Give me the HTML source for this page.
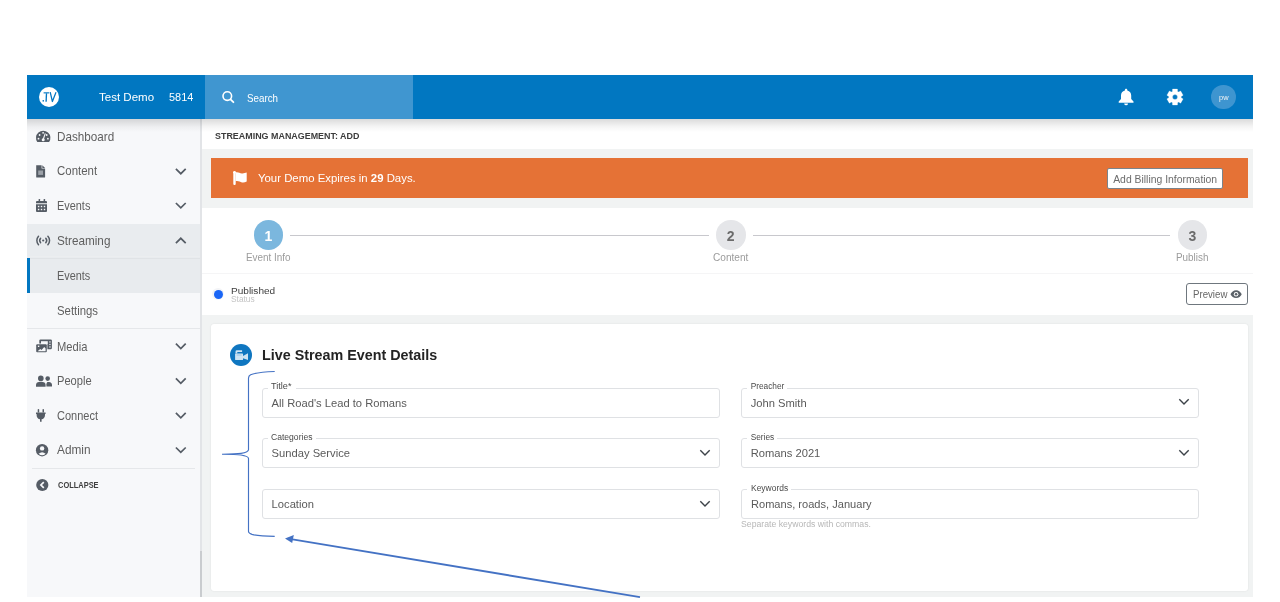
<!DOCTYPE html>
<html><head><meta charset="utf-8">
<style>
*{box-sizing:border-box;margin:0;padding:0}
html,body{width:1280px;height:602px;overflow:hidden;background:#fff;font-family:"Liberation Sans",sans-serif}
.a{position:absolute}
.t{position:absolute;white-space:nowrap;font-family:"Liberation Sans",sans-serif;filter:grayscale(1)}
.fld{position:absolute;border:1px solid #dfe1e4;border-radius:3px;background:#fff;width:457.5px;height:30px}
.gap{position:absolute;background:#fff;height:3px}
</style></head><body>

<!-- header -->
<div class="a" style="left:27px;top:75px;width:1226px;height:44px;background:#0177c1"></div>
<div class="a" style="left:205px;top:75px;width:208px;height:44px;background:#4096d0"></div>
<div class="a" style="left:38.7px;top:86.6px;width:20.8px;height:20.8px;border-radius:50%;background:#fff"></div>
<div class="a" style="left:1211.3px;top:84.8px;width:24.5px;height:24.5px;border-radius:50%;background:#3e95d0"></div>

<!-- sidebar -->
<div class="a" style="left:27px;top:119px;width:175px;height:478px;background:#f7f8fa;border-right:2px solid #e2e4e7"></div>
<div class="a" style="left:200px;top:551px;width:1.5px;height:46px;background:#c9cccf"></div>
<div class="a" style="left:27px;top:224px;width:173px;height:34px;background:#e9ecef"></div>
<div class="a" style="left:27px;top:256px;width:173px;height:1px;background:#eceef0"></div>
<div class="a" style="left:27px;top:257.5px;width:173px;height:1.3px;background:#e0e3e6"></div>
<div class="a" style="left:27px;top:258.8px;width:173px;height:34.7px;background:#e8ebee"></div>
<div class="a" style="left:27px;top:258.3px;width:3px;height:35.2px;background:#0277c1"></div>
<div class="a" style="left:27px;top:328px;width:173px;height:1px;background:#e5e7ea"></div>
<div class="a" style="left:32px;top:468px;width:163px;height:1px;background:#e5e7ea"></div>

<!-- main bg -->
<div class="a" style="left:202px;top:119px;width:1051px;height:478px;background:#f1f3f3"></div>
<div class="a" style="left:202px;top:119px;width:1051px;height:30px;background:#fff"></div>
<div class="a" style="left:210.7px;top:158px;width:1037.6px;height:39.5px;background:#e57236"></div>
<div class="a" style="left:1107.3px;top:168.3px;width:116.2px;height:20.6px;background:#fff;border:1px solid #7b848b;border-radius:2px"></div>

<!-- steps + status -->
<div class="a" style="left:202px;top:208px;width:1051px;height:107px;background:#fff"></div>
<div class="a" style="left:202px;top:273px;width:1051px;height:1px;background:#f5f5f6"></div>
<div class="a" style="left:290.3px;top:234.8px;width:418.6px;height:1px;background:#c8c8cd"></div>
<div class="a" style="left:752.5px;top:234.8px;width:417.5px;height:1px;background:#c8c8cd"></div>
<div class="a" style="left:253.8px;top:220px;width:29.5px;height:29.5px;border-radius:50%;background:#7bb7de"></div>
<div class="a" style="left:716px;top:220px;width:29.5px;height:29.5px;border-radius:50%;background:#e5e6e9"></div>
<div class="a" style="left:1177.9px;top:220px;width:29.5px;height:29.5px;border-radius:50%;background:#e5e6e9"></div>
<div class="a" style="left:212.3px;top:288.4px;width:12px;height:12px;border-radius:50%;background:#f3f4f7"></div>
<div class="a" style="left:213.7px;top:289.8px;width:9.2px;height:9.2px;border-radius:50%;background:#1a66f6"></div>
<div class="a" style="left:1186.3px;top:283.3px;width:61.5px;height:21.4px;border:1px solid #6f777e;border-radius:3px"></div>

<!-- card -->
<div class="a" style="left:211px;top:324.3px;width:1037.2px;height:266.5px;background:#fff;border-radius:3px;box-shadow:0 0 2px rgba(0,0,0,0.09)"></div>
<div class="a" style="left:230.2px;top:344px;width:22px;height:22px;border-radius:50%;background:#0f76c0"></div>

<div class="fld" style="left:262px;top:387.5px"></div>
<div class="fld" style="left:262px;top:437.7px"></div>
<div class="fld" style="left:262px;top:488.6px"></div>
<div class="fld" style="left:741px;top:387.5px"></div>
<div class="fld" style="left:741px;top:437.7px"></div>
<div class="fld" style="left:741px;top:488.6px"></div>
<div class="gap" style="left:268px;top:386px;width:28px"></div>
<div class="gap" style="left:268px;top:436px;width:48px"></div>
<div class="gap" style="left:747px;top:386px;width:40px"></div>
<div class="gap" style="left:747px;top:436px;width:30px"></div>
<div class="gap" style="left:747px;top:487px;width:44px"></div>

<!-- header shadow -->
<div class="a" style="left:27px;top:119px;width:1226px;height:13px;background:linear-gradient(rgba(0,0,0,0.14),rgba(0,0,0,0.04) 60%,rgba(0,0,0,0))"></div>

<!-- icons overlay -->
<svg class="a" style="left:0;top:0" width="1280" height="602" viewBox="0 0 1280 602">
<!-- logo .TV -->
<g fill="none" stroke="#0276c2">
 <path d="M43.6 92.85H49.1" stroke-width="1.15"/>
 <path d="M46.5 93.2L46.1 101.7" stroke-width="1.35"/>
 <path d="M50.2 92.2L52.4 101.5L56 92.2" stroke-width="1.25" stroke-linejoin="round"/>
</g>
<rect x="42.6" y="100" width="1.3" height="1.6" fill="#0276c2"/>
<!-- search icon -->
<circle cx="227.3" cy="96.1" r="4.3" fill="none" stroke="#fff" stroke-width="1.6"/>
<line x1="230.5" y1="99.3" x2="233.4" y2="102.2" stroke="#fff" stroke-width="1.8" stroke-linecap="round"/>
<!-- bell -->
<g fill="#fff">
 <path d="M1126.1 88.8c.8 0 1.2.6 1.2 1.2v.5c2.5.6 3.9 2.6 3.9 5.1v3.5l2.3 2.5v1.2h-14.8v-1.2l2.3-2.5v-3.5c0-2.5 1.4-4.5 3.9-5.1v-.5c0-.6.4-1.2 1.2-1.2z"/>
 <path d="M1124.2 103.4h3.8a1.9 1.9 0 0 1-3.8 0z"/>
</g>
<!-- gear -->
<path fill="#fff" fill-rule="evenodd" stroke="#fff" stroke-width="0.3" stroke-linejoin="round" d="M1172.47 91.39 L1172.55 89.12 L1177.45 89.12 L1177.53 91.39 L1178.64 92.03 L1180.64 90.96 L1183.09 95.21 L1181.17 96.41 L1181.17 97.69 L1183.09 98.89 L1180.64 103.14 L1178.64 102.07 L1177.53 102.71 L1177.45 104.98 L1172.55 104.98 L1172.47 102.71 L1171.36 102.07 L1169.36 103.14 L1166.91 98.89 L1168.83 97.69 L1168.83 96.41 L1166.91 95.21 L1169.36 90.96 L1171.36 92.03ZM1177.50 97.05A2.5 2.5 0 1 0 1172.50 97.05A2.5 2.5 0 1 0 1177.50 97.05Z"/>
<!-- flag -->
<g fill="#fff">
 <rect x="233.3" y="171.8" width="2.4" height="13.1" rx="1"/>
 <circle cx="234.5" cy="172.3" r="1.4"/>
 <path d="M235.6 172.6C238 171.6 240 173.9 242.5 173.5C244 173.3 245.5 172.6 246.7 172.4L246.7 181.6C245 182.4 243.5 182.7 242 182.4C240 181.9 238 180.6 235.6 181.3Z"/>
</g>
<!-- eye icon -->
<path d="M1236.1 290.3c-2.6 0-4.6 1.8-5.6 3.9 1 2.1 3 3.9 5.6 3.9s4.6-1.8 5.6-3.9c-1-2.1-3-3.9-5.6-3.9z" fill="#5a6168"/>
<circle cx="1236.1" cy="294.2" r="2.3" fill="#fff"/>
<circle cx="1236.1" cy="294.2" r="1.3" fill="#5a6168"/>
<!-- camera -->
<g fill="#cfe4f3">
 <path d="M235.5 353.6V351.7a1.4 1.4 0 0 1 1.4-1.4H242.1V351.9H237.3V353.6Z"/>
 <rect x="235.1" y="353.4" width="7.9" height="6.6" rx="0.6"/>
 <path d="M243 356L248 353.3V360L243 358.3Z"/>
</g>
<rect x="236.6" y="354.4" width="5" height="1.3" fill="#a9cce8"/>

<g fill="#555c65">
 <!-- dashboard -->
 <path d="M37.3 142A7.2 7.2 0 1 1 49.1 142Z"/>
 <g fill="#f7f8fa"><circle cx="39.6" cy="135" r="0.9"/><circle cx="38.5" cy="138.7" r="0.9"/><circle cx="47.9" cy="138.7" r="0.9"/><circle cx="46.7" cy="135" r="0.9"/><circle cx="43.1" cy="132.8" r="0.9"/><circle cx="43.2" cy="139.8" r="1.5"/></g>
 <line x1="43.2" y1="139.5" x2="45.3" y2="133.4" stroke="#f7f8fa" stroke-width="1.1"/>
 <!-- content file -->
 <path d="M36.2 165.2h5.4v3.4h3.5v8.3a.6.6 0 0 1-.6.6h-7.7a.6.6 0 0 1-.6-.6z"/>
 <path d="M42.3 165.2l2.8 2.8h-2.8z"/>
 <rect x="38.2" y="170.5" width="4.8" height="4.4" fill="#9ca1a8"/>
 <!-- calendar -->
 <rect x="38.6" y="199" width="1.5" height="3" rx=".5"/><rect x="43.6" y="199" width="1.5" height="3" rx=".5"/>
 <path d="M36 203.2v-1.2a1 1 0 0 1 1-1h9a1 1 0 0 1 1 1v1.2z"/>
 <path d="M36 204.2h11v6.8a1 1 0 0 1-1 1h-9a1 1 0 0 1-1-1z"/>
 <g fill="#f7f8fa"><rect x="37.9" y="205.8" width="1.4" height="1.4"/><rect x="40.8" y="205.8" width="1.4" height="1.4"/><rect x="43.8" y="205.8" width="1.4" height="1.4"/><rect x="37.9" y="208.8" width="1.4" height="1.4"/><rect x="40.8" y="208.8" width="1.4" height="1.4"/><rect x="43.8" y="208.8" width="1.4" height="1.4"/></g>
 <!-- streaming -->
 <g fill="none" stroke="#555c65" stroke-width="1.5" stroke-linecap="round">
  <path d="M38.5 236.3A6.2 6.2 0 0 0 38.5 244.7"/><path d="M47.9 236.3A6.2 6.2 0 0 1 47.9 244.7"/>
  <path d="M40.6 238.3A3.4 3.4 0 0 0 40.6 242.7"/><path d="M45.8 238.3A3.4 3.4 0 0 1 45.8 242.7"/>
 </g>
 <circle cx="43.2" cy="240.5" r="1.1"/>
 <!-- media -->
 <rect x="39.3" y="339.6" width="12.6" height="9.6" rx="1.2"/>
 <rect x="41" y="341.2" width="6.8" height="3" fill="#f7f8fa"/>
 <g fill="#f7f8fa"><rect x="49.3" y="341.3" width="1.3" height="1.3"/><rect x="49.3" y="343.8" width="1.3" height="1.3"/><rect x="49.3" y="346.3" width="1.3" height="1.3"/></g>
 <rect x="35.6" y="343.6" width="11.8" height="9.2" rx="1.2" fill="#f7f8fa"/>
 <rect x="36.2" y="344.2" width="10.6" height="8" rx="1"/>
 <path d="M37.6 351.2l2.6-2.2 1.4 1 2.6-3 1.4 1.4v2.8z" fill="#f7f8fa"/>
 <rect x="37.9" y="345.6" width="1.4" height="1.4" fill="#f7f8fa"/>
 <!-- people -->
 <circle cx="40.8" cy="378.4" r="2.8"/><circle cx="47.7" cy="378.6" r="2.3"/>
 <path d="M36 386.7v-1.8c0-1.7 1.3-3 3-3h3.6c1.7 0 3 1.3 3 3v1.8z"/>
 <path d="M46.4 386.6v-2.3c0-1 .4-1.8 1-2.4h1.6c1.8 0 3 1.4 3 3v1.7z"/>
 <!-- connect plug -->
 <rect x="37.7" y="409" width="1.5" height="3.6" rx=".7"/><rect x="42.5" y="409" width="1.5" height="3.6" rx=".7"/>
 <path d="M36 412.6h9.6v1.3h-.6v1c0 2.4-1.6 4-3.4 4.4v2.4h-1.6v-2.4c-1.8-.4-3.4-2-3.4-4.4v-1h-.6z"/>
 <!-- admin -->
 <circle cx="42.1" cy="450.2" r="6.2"/>
 <circle cx="42.1" cy="448.4" r="2.2" fill="#f7f8fa"/>
 <path d="M38.6 453.8Q42.1 450.8 45.6 453.8Q42.1 456.9 38.6 453.8z" fill="#f7f8fa"/>
 <!-- collapse -->
 <circle cx="42.3" cy="485" r="6.1"/>
 <path d="M43.8 482.1L40.9 485L43.8 487.9" fill="none" stroke="#f7f8fa" stroke-width="1.7"/>
</g>
<!-- sidebar chevrons -->
<g fill="none" stroke="#555c65" stroke-width="1.7">
 <path d="M175.9 168.8L180.8 173.7L185.7 168.8"/>
 <path d="M175.9 203L180.8 207.9L185.7 203"/>
 <path d="M175.9 243.2L180.8 238.3L185.7 243.2"/>
 <path d="M175.9 343.7L180.8 348.6L185.7 343.7"/>
 <path d="M175.9 378.4L180.8 383.3L185.7 378.4"/>
 <path d="M175.9 412.9L180.8 417.8L185.7 412.9"/>
 <path d="M175.9 447.5L180.8 452.4L185.7 447.5"/>
</g>
<!-- field chevrons -->
<g fill="none" stroke="#3d4349" stroke-width="1.4">
 <path d="M700.3 450.3L705 455L709.7 450.3"/>
 <path d="M700.3 501.2L705 505.9L709.7 501.2"/>
 <path d="M1179.3 399.3L1184 404L1188.7 399.3"/>
 <path d="M1179.3 450.3L1184 455L1188.7 450.3"/>
</g>
<!-- annotations -->
<path d="M274.7 371.5C263 371.9 254 373.3 250.6 374.8C248.9 375.6 248.5 376.6 248.5 378.2L248.5 449.8C248.5 451.8 245.6 452.6 241 453.4C238 453.9 234 454.2 222 454.2C234 454.2 238 454.5 241 455C245.6 455.8 248.5 456.6 248.5 458.4L248.5 531.6C248.5 533 249.6 533.6 252 534.4C256 535.6 262 536.3 274.7 536.4" fill="none" stroke="#4472c4" stroke-width="1.15"/>
<line x1="640" y1="597.1" x2="291" y2="539.1" stroke="#4472c4" stroke-width="1.9"/>
<path d="M285 538.4L293.8 535L292.2 543.1z" fill="#4472c4"/>
</svg>

<div class="t" style="left:99.20px;top:92px;font-size:11.8px;line-height:11.8px;font-weight:400;color:#fff;transform:scaleX(0.9768);transform-origin:0 0;">Test Demo</div>
<div class="t" style="left:169.20px;top:92px;font-size:11.8px;line-height:11.8px;font-weight:400;color:#fff;transform:scaleX(0.9257);transform-origin:0 0;">5814</div>
<div class="t" style="left:246.70px;top:93px;font-size:10.8px;line-height:10.8px;font-weight:400;color:#fff;transform:scaleX(0.9063);transform-origin:0 0;">Search</div>
<div class="t" style="left:1218.60px;top:94px;font-size:7.6px;line-height:7.6px;font-weight:400;color:#eef5fb;transform:scaleX(0.9782);transform-origin:0 0;">pw</div>
<div class="t" style="left:57.30px;top:131px;font-size:12.1px;line-height:12.1px;font-weight:400;color:#59606a;transform:scaleX(0.9668);transform-origin:0 0;">Dashboard</div>
<div class="t" style="left:57.30px;top:165px;font-size:12.1px;line-height:12.1px;font-weight:400;color:#59606a;transform:scaleX(0.9466);transform-origin:0 0;">Content</div>
<div class="t" style="left:57.30px;top:200px;font-size:12.1px;line-height:12.1px;font-weight:400;color:#59606a;transform:scaleX(0.9018);transform-origin:0 0;">Events</div>
<div class="t" style="left:57.30px;top:235px;font-size:12.1px;line-height:12.1px;font-weight:400;color:#59606a;transform:scaleX(0.9689);transform-origin:0 0;">Streaming</div>
<div class="t" style="left:57.30px;top:270px;font-size:12.1px;line-height:12.1px;font-weight:400;color:#59606a;transform:scaleX(0.8991);transform-origin:0 0;">Events</div>
<div class="t" style="left:57.30px;top:305px;font-size:12.1px;line-height:12.1px;font-weight:400;color:#59606a;transform:scaleX(0.9393);transform-origin:0 0;">Settings</div>
<div class="t" style="left:57.30px;top:341px;font-size:12.1px;line-height:12.1px;font-weight:400;color:#59606a;transform:scaleX(0.9243);transform-origin:0 0;">Media</div>
<div class="t" style="left:57.30px;top:375px;font-size:12.1px;line-height:12.1px;font-weight:400;color:#59606a;transform:scaleX(0.9201);transform-origin:0 0;">People</div>
<div class="t" style="left:57.30px;top:410px;font-size:12.1px;line-height:12.1px;font-weight:400;color:#59606a;transform:scaleX(0.9106);transform-origin:0 0;">Connect</div>
<div class="t" style="left:57.30px;top:444px;font-size:12.1px;line-height:12.1px;font-weight:400;color:#59606a;transform:scaleX(0.9775);transform-origin:0 0;">Admin</div>
<div class="t" style="left:57.80px;top:481px;font-size:8.3px;line-height:8.3px;font-weight:700;color:#3a4047;transform:scaleX(0.8983);transform-origin:0 0;">COLLAPSE</div>
<div class="t" style="left:214.60px;top:131px;font-size:9.6px;line-height:9.6px;font-weight:700;color:#383d42;transform:scaleX(0.9300);transform-origin:0 0;">STREAMING MANAGEMENT: ADD</div>
<div class="t" style="left:258.10px;top:172px;font-size:11.6px;line-height:11.6px;font-weight:400;color:#fff;transform:scaleX(0.9816);transform-origin:0 0;">Your Demo Expires in <b>29</b> Days.</div>
<div class="t" style="left:1113.20px;top:175px;font-size:10.4px;line-height:10.4px;font-weight:400;color:#666d74;">Add Billing Information</div>
<div class="t" style="left:264.50px;top:229px;font-size:14px;line-height:14px;font-weight:700;color:#fff;">1</div>
<div class="t" style="left:726.70px;top:229px;font-size:14px;line-height:14px;font-weight:700;color:#6a6a76;">2</div>
<div class="t" style="left:1188.60px;top:229px;font-size:14px;line-height:14px;font-weight:700;color:#6a6a76;">3</div>
<div class="t" style="left:245.85px;top:253px;font-size:10.3px;line-height:10.3px;font-weight:400;color:#9b9ba3;transform:scaleX(0.9627);transform-origin:0 0;">Event Info</div>
<div class="t" style="left:713.15px;top:253px;font-size:10.3px;line-height:10.3px;font-weight:400;color:#9b9ba3;transform:scaleX(0.9806);transform-origin:0 0;">Content</div>
<div class="t" style="left:1176.25px;top:253px;font-size:10.3px;line-height:10.3px;font-weight:400;color:#9b9ba3;transform:scaleX(0.9605);transform-origin:0 0;">Publish</div>
<div class="t" style="left:231.40px;top:286px;font-size:9.6px;line-height:9.6px;font-weight:400;color:#3b4046;transform:scaleX(1.0478);transform-origin:0 0;">Published</div>
<div class="t" style="left:231.30px;top:296px;font-size:8.2px;line-height:8.2px;font-weight:400;color:#bfc3c7;transform:scaleX(1.0209);transform-origin:0 0;">Status</div>
<div class="t" style="left:1192.70px;top:290px;font-size:10px;line-height:10px;font-weight:400;color:#60676e;transform:scaleX(0.9658);transform-origin:0 0;">Preview</div>
<div class="t" style="left:262.20px;top:348px;font-size:14.2px;line-height:14.2px;font-weight:700;color:#212529;transform:scaleX(1.0099);transform-origin:0 0;">Live Stream Event Details</div>
<div class="t" style="left:271.20px;top:382px;font-size:8.3px;line-height:8.3px;font-weight:400;color:#444a50;transform:scaleX(1.0999);transform-origin:0 0;">Title*</div>
<div class="t" style="left:271.20px;top:433px;font-size:8.3px;line-height:8.3px;font-weight:400;color:#444a50;transform:scaleX(1.0332);transform-origin:0 0;">Categories</div>
<div class="t" style="left:750.70px;top:382px;font-size:8.3px;line-height:8.3px;font-weight:400;color:#444a50;">Preacher</div>
<div class="t" style="left:750.70px;top:433px;font-size:8.3px;line-height:8.3px;font-weight:400;color:#444a50;">Series</div>
<div class="t" style="left:750.70px;top:484px;font-size:8.3px;line-height:8.3px;font-weight:400;color:#444a50;transform:scaleX(1.0198);transform-origin:0 0;">Keywords</div>
<div class="t" style="left:271.60px;top:398px;font-size:11.2px;line-height:11.2px;font-weight:400;color:#555b61;">All Road's Lead to Romans</div>
<div class="t" style="left:271.60px;top:448px;font-size:11.2px;line-height:11.2px;font-weight:400;color:#555b61;">Sunday Service</div>
<div class="t" style="left:271.60px;top:499px;font-size:11.2px;line-height:11.2px;font-weight:400;color:#555b61;">Location</div>
<div class="t" style="left:750.70px;top:398px;font-size:11.2px;line-height:11.2px;font-weight:400;color:#555b61;">John Smith</div>
<div class="t" style="left:750.70px;top:448px;font-size:11.2px;line-height:11.2px;font-weight:400;color:#555b61;">Romans 2021</div>
<div class="t" style="left:750.70px;top:499px;font-size:11.2px;line-height:11.2px;font-weight:400;color:#555b61;transform:scaleX(0.9895);transform-origin:0 0;">Romans, roads, January</div>
<div class="t" style="left:740.80px;top:520px;font-size:8.3px;line-height:8.3px;font-weight:400;color:#b3b7bb;transform:scaleX(1.0474);transform-origin:0 0;">Separate keywords with commas.</div>
</body></html>
